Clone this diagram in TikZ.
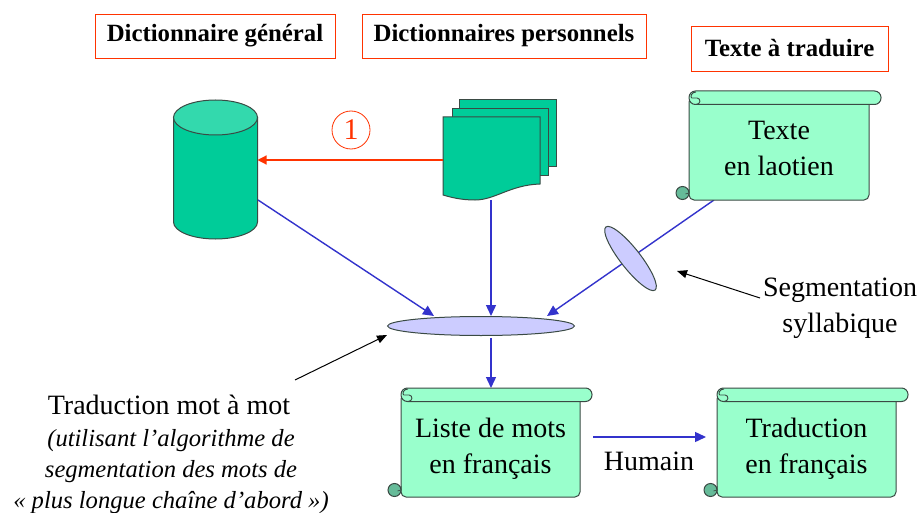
\documentclass[tikz,border=0pt]{standalone}
\usepackage{fontspec}
\setmainfont{Liberation Serif}
\usetikzlibrary{shapes.geometric,arrows.meta}
\definecolor{teal1}{HTML}{00CC99}
\definecolor{teal2}{HTML}{33D9AD}
\definecolor{mint}{HTML}{99FFCC}
\definecolor{curl}{HTML}{66BB99}
\definecolor{lav}{HTML}{CCCCFF}
\definecolor{blueL}{HTML}{3333CC}
\definecolor{redL}{HTML}{FF3300}
\definecolor{edge}{HTML}{3A4A44}
\newcommand{\scrollshape}[7]{%
  \path[draw=edge,line width=1pt,fill=mint,rounded corners=5pt]
    (#2,#3+6) -- (#2,#5) -- (#4,#5) -- (#4,#3+6) -- cycle;
  \path[draw=edge,line width=1pt,fill=mint,rounded corners=6.5pt]
    (#2,#3) rectangle (#4+12,#3+13.5);
  \path[draw=edge,line width=.9pt] (#2+2.5,#3+7) -- (#2+8,#3+7) .. controls (#2+12,#3+7) and (#2+12,#3+13.5) .. (#2+7,#3+13.5);
  \path[draw=edge,line width=.9pt] (#2+7,#3+1) .. controls (#2+3,#3+1) and (#2+1,#3+5) .. (#2+2.5,#3+7);
  \path[draw=edge,line width=1pt,fill=curl] (#2-6.5,#5-7) circle[radius=6.5];
  \path[draw=edge,line width=.7pt] (#2-3.5,#5-6) -- (#2,#5-7) -- (#2,#5-11);
  \node[scrolltext] (#1) at ({(#2+#4)/2},{#3+#6}) {#7};
}
\tikzset{
  titlebox/.style={draw=redL,line width=.9pt,fill=white,minimum height=44pt,inner sep=0pt,font=\fontsize{24.8}{28}\selectfont\bfseries},
  scrolltext/.style={align=center,inner sep=0pt,font=\fontsize{28}{36}\selectfont},
  plain/.style={align=center,inner sep=0pt,font=\fontsize{28}{36}\selectfont},
  flow/.style={draw=blueL,line width=1.4pt,-{Triangle[length=11pt,width=10pt]}},
  redflow/.style={draw=redL,line width=1.2pt,-{Triangle[length=9pt,width=9pt]}},
  callout/.style={draw=black,line width=1pt,-{Triangle[length=10pt,width=8pt]}},
  lens/.style={ellipse,draw=edge,line width=1pt,fill=lav,inner sep=0pt},
  solid1/.style={draw=edge,line width=1pt,fill=teal1},
}
\begin{document}
\begin{tikzpicture}[x=1pt,y=-1pt]
\useasboundingbox[fill=white] (0,0) rectangle (917,513);
% titles
\node[titlebox,minimum width=240pt] (t1) at (215,36) {\raisebox{-2pt}{Dictionnaire général}};
\node[titlebox,minimum width=284pt] (t2) at (504,36) {\raisebox{-2pt}{Dictionnaires personnels}};
\node[titlebox,minimum width=197pt,minimum height=45pt] (t3) at (789.5,48.5) {\raisebox{-2pt}{Texte à traduire}};
% named ends
\coordinate (cylR) at (257.5,160);
\coordinate (cylB) at (258,200);
\coordinate (docL) at (443,160);
\coordinate (docB) at (491,200);
\coordinate (mergeL) at (434,316);
\coordinate (mergeT) at (491,316);
\coordinate (mergeR) at (547,316);
\coordinate (mergeD) at (491,338);
\coordinate (listT) at (491,388);
\coordinate (textB) at (714,200);
\coordinate (humS) at (593,437);
\coordinate (humE) at (706,437);
\coordinate (c1s) at (295,380);
\coordinate (c1e) at (387,335);
\coordinate (c2s) at (760,298);
\coordinate (c2e) at (677,271);
% cylinder
\path[solid1] (173.5,117.5) -- (173.5,222) arc[start angle=180,end angle=360,x radius=42,y radius=-17] -- (257.5,117.5) -- cycle;
\path[draw=edge,line width=1pt,fill=teal2] (215.5,117.5) ellipse[x radius=42,y radius=17.5];
% documents
\path[solid1] (459,100) rectangle (556,167);
\path[solid1] (452,109) rectangle (548,175);
\path[solid1] (443,117) -- (540,117) -- (540,184) .. controls (510,185) and (495,200) .. (475,200) .. controls (460,200) and (450,197) .. (443,195) -- cycle;
% connectors
\draw[flow] (textB) -- (mergeR);
\draw[flow] (cylB) -- (mergeL);
\draw[flow] (docB) -- (mergeT);
\draw[flow] (mergeD) -- (listT);
\draw[redflow] (docL) -- (cylR);
\draw[flow] (humS) -- (humE);
\draw[callout] (c1s) -- (c1e);
\draw[callout] (c2s) -- (c2e);
% ellipses
\node[lens,minimum width=187pt,minimum height=19pt] (merge) at (481,326) {};
\node[lens,minimum width=80pt,minimum height=20pt,rotate=-52] (seg) at (630.5,258.5) {};
% circle 1
\node[circle,draw=redL,line width=.8pt,minimum size=38pt,inner sep=0pt,text=redL,font=\fontsize{30}{30}\selectfont] (one) at (351,130) {1};
% scrolls
\scrollshape{texte}{689}{91}{869}{200}{57}{Texte\\en laotien}
\scrollshape{liste}{401}{388}{580}{497}{61}{Liste de mots\\en français}
\scrollshape{trad}{717}{388}{896}{497}{61}{Traduction\\en français}
% labels
\node[plain] (hum) at (649,461) {Humain};
\node[plain] (segl) at (840,308) {Segmentation\\syllabique};
\node[plain] (mot) at (169,405) {Traduction mot à mot};
\node[align=center,inner sep=0pt,font=\fontsize{24.6}{31}\selectfont\itshape] (algo) at (171,472) {(utilisant l’algorithme de\\segmentation des mots de\\« plus longue chaîne d’abord »)};
\end{tikzpicture}
\end{document}
